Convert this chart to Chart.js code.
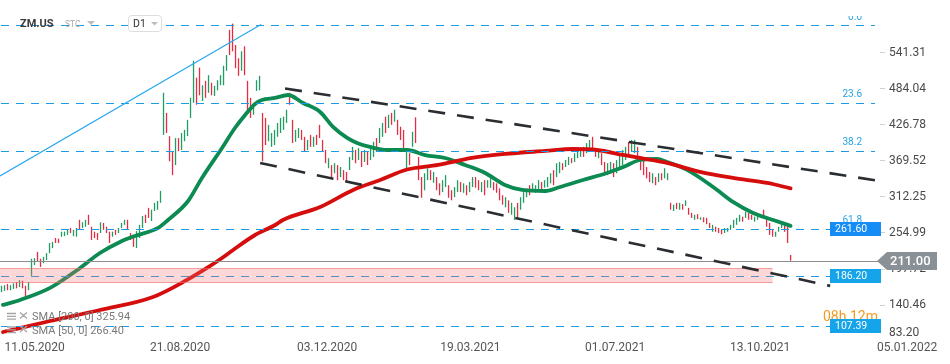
<!DOCTYPE html>
<html><head><meta charset="utf-8">
<script src="https://cdn.jsdelivr.net/npm/chart.js@4.4.1/dist/chart.umd.min.js"></script>
<style>html,body{margin:0;padding:0;background:#fff;}canvas{display:block;}</style>
</head><body>
<canvas id="c" width="950" height="364" style="width:950px;height:364px"></canvas>
<script>
// ---- data ----
const barHighs = [
171,172,174,172,175,177,180,179,171,177,
214,215,225,214,217,223,239,241,247,246,
257,257,260,263,260,263,276,272,276,284,
265,257,255,272,271,265,257,257,260,263,
271,276,276,255,252,258,268,282,284,295,
292,303,306,322,478,446,409,385,406,406,
414,419,435,470,529,502,518,490,497,506,
494,489,498,506,521,538,578,588,554,533,
544,552,497,470,462,498,505,446,438,427,
414,419,430,438,440,451,478,435,419,422,
419,408,403,411,408,411,427,403,387,374,
363,366,363,360,355,352,376,392,387,390,
384,387,384,392,400,406,422,430,440,443,
446,451,435,424,419,387,382,416,439,376,
344,350,358,355,352,344,334,339,347,331,
323,328,339,336,334,331,336,344,344,339,
336,339,339,342,336,334,326,315,312,307,
303,296,303,312,320,326,331,334,331,339,
336,339,344,350,355,366,368,366,371,376,
374,382,384,387,392,398,403,408,390,387,
382,368,366,368,366,371,379,387,392,400,
403,403,392,376,371,360,352,350,344,350,
350,358,350,303,300,303,303,301,307,295,
287,284,285,280,280,279,271,268,265,263,
260,263,263,268,276,279,284,281,289,287,
284,281,284,285,292,279,271,260,257,265,
271,270,265,220];
const barLows = [
161,163,164,164,166,167,169,167,152,164,
187,204,209,201,207,212,223,231,239,239,
249,250,252,255,250,249,260,263,265,268,
244,247,244,255,260,255,239,249,252,255,
263,268,260,244,233,231,247,263,271,279,
274,290,292,303,411,414,369,347,363,385,
387,401,409,438,462,459,474,465,470,478,
474,473,482,490,490,513,538,544,517,505,
513,506,449,438,443,481,482,369,395,401,
392,395,408,414,419,430,459,398,400,406,
403,384,387,392,392,395,406,384,366,358,
344,350,339,344,339,336,355,371,366,371,
360,368,363,371,376,384,398,408,414,422,
427,432,411,403,387,355,363,392,398,339,
311,323,339,339,335,323,315,320,328,311,
307,312,320,320,319,315,320,328,327,323,
320,315,327,327,323,319,307,300,296,287,
284,276,279,292,303,312,315,320,319,323,
323,327,328,334,331,344,350,355,360,363,
366,368,374,376,376,382,384,390,376,374,
363,350,347,350,344,350,358,363,371,376,
384,382,374,355,347,342,336,334,331,336,
339,342,339,292,290,293,292,292,298,284,
279,276,277,276,272,269,263,257,257,255,
253,255,257,260,263,268,273,273,279,276,
276,273,276,279,279,265,252,249,249,257,
263,257,239,211];
const barDirs = ("uuduududdu uudduuuudd uuuduuduud dddudddudu uuddduuudd uuuuudddud uuuuuddudu duuuuudddd " +
  "uddduuuddu uuuuuudduu ddududdddu dududduudu duduuduudu dudddududd duududduud duududuudd uduuddddud " +
  "uuduuuduuu duuuduuduu duuuduuddu dduuduuuud uudddddudu duudududud dududddudd duuuuuudud duuudddduu uddd").replace(/ /g,'');

const sma50X = [0.5,6.2,16.2,26.2,32.8,39.5,44.5,52.2,55.5,62.2,66.8,73.5,77.8,81.2,84.5,86.8,91.2,95.5,100.5,106.2,110.5,115.2,118.5,122.8,128.5,135.2,141.2,147.8,154.5,161.2,167.8,173.5,181.2,186.2,193.8,201.8,207.2,212.8,218.5,221.8,228.5,237.2,243.8,250.5,257.2,263];
const sma50Y = [140.6,148.5,167.7,199.4,223.2,240.8,250.3,263,275.7,305.9,342.5,390.3,422,442.7,460.2,466.6,469.8,474.5,461.8,447.5,423.7,406.2,398.2,391.9,387,387,379,374.3,363.2,350.4,331.3,323.4,321.8,328.2,339.3,350.4,360,371.1,372.7,368,355.3,328.2,304.4,286.9,275.7,266.4];
const sma200X = [0.5,16.2,32.8,50.5,61.8,68.5,73.5,77.2,84.5,91.2,93.8,106.2,117.2,126.2,135.2,145.5,156.8,167.8,181.2,190.5,198.5,207.2,212.8,221.8,232.8,243.8,255.2,263];
const sma200Y = [97.5,115,132.5,153.2,180.3,199.4,215.2,228,251.8,267.7,275.7,296.4,323.4,339.3,356,363.2,374.3,380.7,385.5,388.6,387,379.1,374.3,366.4,352.1,342.5,334.6,325.94];

const xTickIdx = [1, 49.5, 98.5, 146.2, 194.5, 242.8, 291.8];
const xTickLabels = ['11.05.2020','21.08.2020','03.12.2020','19.03.2021','01.07.2021','13.10.2021','05.01.2022'];
const yTickValues = [140.46,197.72,254.99,312.25,369.52,426.78,484.04,541.31];
const yBottomLabel = 83.20;
const yAxisMin = 83.20, yAxisMax = 625.6;
const xAxisMin = -0.5, xAxisMax = 292.8;

const fibLevels = [585.8, 462.0, 385.5, 261.6];
const fibLabels = ['0.0','23.6','38.2','61.8'];
const levelLines = [186.20, 107.39];
const boxedLevels = [261.60, 186.20, 107.39];
const lastPrice = 211.00;
const zonePrices = [175.5, 199.3];
const zoneEndIdx = 257;
const trendBlue = [[-0.5, 345.7],[86.5, 586.6]];
const trendUpper = [[94.5, 484.8],[292.8, 337.7]];
const trendLower = [[86.2, 366.4],[276.2, 170.9]];
const smaLegend = ['SMA [200, 0] 325.94', 'SMA [50, 0] 266.40'];
const symbolName = 'ZM.US', symbolType = 'STC', timeFrame = 'D1', timerText = '08h 12m';

// ---- build ----
const UP = '#1f9d62', DOWN = '#e62c42';
const bars = barHighs.map((h,i)=>({x:i, y:[barLows[i], h]}));
const barColors = barHighs.map((h,i)=> barDirs[i]==='u' ? UP : DOWN);
const FONT = 'Roboto, "DejaVu Sans", sans-serif';

function seg(ctx, x, y, p) {
  ctx.beginPath();
  ctx.moveTo(x.getPixelForValue(p[0][0]), y.getPixelForValue(p[0][1]));
  ctx.lineTo(x.getPixelForValue(p[1][0]), y.getPixelForValue(p[1][1]));
  ctx.stroke();
}

const overlay = {
  id: 'overlay',
  afterDatasetsDraw(chart) {
    const {ctx, chartArea: a, scales: {x, y}} = chart;
    const R = a.right;
    ctx.save();
    ctx.beginPath(); ctx.rect(a.left, a.top, a.width, a.height); ctx.clip();
    ctx.strokeStyle = '#1c9be2'; ctx.lineWidth = 1.2; ctx.setLineDash([8,7]);
    fibLevels.concat(levelLines).forEach(p => {
      const py = Math.round(y.getPixelForValue(p)) + 0.5;
      ctx.beginPath(); ctx.moveTo(a.left + 1, py); ctx.lineTo(R - 5, py); ctx.stroke();
    });
    ctx.setLineDash([]);
    const zt = y.getPixelForValue(zonePrices[1]), zb = y.getPixelForValue(zonePrices[0]);
    const zr = x.getPixelForValue(zoneEndIdx);
    ctx.fillStyle = 'rgba(245,110,110,0.28)';
    ctx.fillRect(a.left, zt, zr - a.left, zb - zt);
    ctx.strokeStyle = 'rgba(238,110,110,0.55)'; ctx.lineWidth = 1;
    ctx.beginPath();
    ctx.moveTo(a.left, Math.round(zt) + 0.5); ctx.lineTo(zr, Math.round(zt) + 0.5);
    ctx.moveTo(a.left, Math.round(zb) - 0.5); ctx.lineTo(zr, Math.round(zb) - 0.5);
    ctx.stroke();
    const lp = Math.round(y.getPixelForValue(lastPrice)) + 0.5;
    ctx.strokeStyle = '#8e8e8e'; ctx.lineWidth = 1;
    ctx.beginPath(); ctx.moveTo(a.left, lp); ctx.lineTo(R, lp); ctx.stroke();
    ctx.strokeStyle = '#27a6f2'; ctx.lineWidth = 1.2; seg(ctx, x, y, trendBlue);
    ctx.strokeStyle = '#2a2d31'; ctx.lineWidth = 2.6; ctx.setLineDash([17,12]);
    seg(ctx, x, y, trendUpper); seg(ctx, x, y, trendLower);
    ctx.restore();
  },
  afterDraw(chart) {
    const {ctx, chartArea: a, scales: {x, y}} = chart;
    const R = a.right;
    ctx.save();
    ctx.save();
    ctx.beginPath(); ctx.rect(0, 16, 950, 348); ctx.clip();
    ctx.font = '10px ' + FONT; ctx.fillStyle = '#29a3e3'; ctx.textAlign = 'right'; ctx.textBaseline = 'middle';
    fibLevels.forEach((p, i) => ctx.fillText(fibLabels[i], R - 18, y.getPixelForValue(p) - 8));
    ctx.restore();
    const p107 = y.getPixelForValue(boxedLevels[2]);
    ctx.font = '14px ' + FONT; ctx.fillStyle = '#f49b1f'; ctx.textAlign = 'left'; ctx.textBaseline = 'middle';
    ctx.fillText(timerText, R - 57, p107 - 8);
    const boxCols = ['#168cf5', '#15a3ea', '#15a3ea'];
    boxedLevels.forEach((p, i) => {
      const py = Math.round(y.getPixelForValue(p));
      ctx.fillStyle = boxCols[i];
      ctx.fillRect(R - 50, py - 7, 51, 14);
      ctx.fillStyle = '#fff'; ctx.font = '10.5px ' + FONT; ctx.textAlign = 'left'; ctx.textBaseline = 'middle';
      ctx.fillText(p.toFixed(2), R - 45, py + 0.5);
    });
    const lp = Math.round(y.getPixelForValue(lastPrice));
    ctx.fillStyle = '#8a9196';
    ctx.beginPath();
    ctx.moveTo(R - 3, lp); ctx.lineTo(R + 7, lp - 9); ctx.lineTo(R + 57, lp - 9);
    ctx.lineTo(R + 57, lp + 9); ctx.lineTo(R + 7, lp + 9); ctx.closePath(); ctx.fill();
    ctx.fillStyle = '#fff'; ctx.font = '500 13px ' + FONT; ctx.textAlign = 'left';
    ctx.fillText(lastPrice.toFixed(2), R + 10, lp + 0.5);
    ctx.fillStyle = '#4a4a4a'; ctx.font = '12px ' + FONT;
    ctx.fillText(yBottomLabel.toFixed(2), R + 9, a.bottom - 8);
    ctx.fillStyle = '#3b3b3b'; ctx.font = 'bold 11px ' + FONT;
    ctx.fillText(symbolName, 20, 24);
    ctx.fillStyle = '#aaaaaa'; ctx.font = '8.5px ' + FONT;
    ctx.fillText(symbolType, 65, 25);
    ctx.fillStyle = '#bdbdbd';
    ctx.beginPath(); ctx.moveTo(87, 21); ctx.lineTo(95, 21); ctx.lineTo(91, 25); ctx.closePath(); ctx.fill();
    ctx.fillStyle = '#fff'; ctx.strokeStyle = '#dddddd'; ctx.lineWidth = 1;
    ctx.beginPath(); ctx.roundRect(128.5, 15.5, 33, 16, 3); ctx.fill(); ctx.stroke();
    ctx.fillStyle = '#333'; ctx.font = '10.5px ' + FONT;
    ctx.fillText(timeFrame, 133, 24);
    ctx.fillStyle = '#bdbdbd';
    ctx.beginPath(); ctx.moveTo(151, 22); ctx.lineTo(158, 22); ctx.lineTo(154.5, 25.5); ctx.closePath(); ctx.fill();
    smaLegend.forEach((t, i) => {
      const ly = 317.5 + i * 13.5;
      ctx.strokeStyle = '#a5a5a5'; ctx.lineWidth = 1.3;
      ctx.beginPath();
      for (let k = 0; k < 3; k++) { ctx.moveTo(7, ly - 4 + k * 2.8); ctx.lineTo(16, ly - 4 + k * 2.8); }
      ctx.moveTo(20, ly - 5); ctx.lineTo(27, ly + 1); ctx.moveTo(27, ly - 5); ctx.lineTo(20, ly + 1);
      ctx.stroke();
      ctx.fillStyle = '#7a7a7a'; ctx.font = '11px ' + FONT; ctx.textAlign = 'left';
      ctx.fillText(t, 32, ly);
    });
    ctx.restore();
  }
};

new Chart(document.getElementById('c'), {
  data: {
    datasets: [
      {type: 'line', data: sma200X.map((v, i) => ({x: v, y: sma200Y[i]})), borderColor: '#d60d0d', borderWidth: 3.8,
       pointRadius: 0, cubicInterpolationMode: 'monotone', borderCapStyle: 'round', order: 0},
      {type: 'line', data: sma50X.map((v, i) => ({x: v, y: sma50Y[i]})), borderColor: '#0b8a52', borderWidth: 3.8,
       pointRadius: 0, cubicInterpolationMode: 'monotone', borderCapStyle: 'round', order: 1},
      {type: 'bar', data: bars, backgroundColor: barColors, barThickness: 1.3, inflateAmount: 0, grouped: false, borderWidth: 0, order: 3}
    ]
  },
  options: {
    responsive: false, animation: false, devicePixelRatio: 1,
    layout: {padding: 0},
    plugins: {legend: {display: false}, tooltip: {enabled: false}},
    scales: {
      x: {
        type: 'linear', min: xAxisMin, max: xAxisMax, offset: false,
        grid: {display: false, drawTicks: false, offset: false}, border: {display: false},
        ticks: {align: 'start', maxRotation: 0, autoSkip: false, padding: 0, color: '#555', font: {family: FONT, size: 12},
          callback: (v, i) => xTickLabels[i]},
        afterBuildTicks: s => { s.ticks = xTickIdx.map(v => ({value: v})); },
        afterFit: s => { s.height = 23; s.paddingLeft = 0; s.paddingRight = 0; }
      },
      y: {
        position: 'right', min: yAxisMin, max: yAxisMax,
        grid: {drawOnChartArea: false, tickLength: 5, color: '#d0d0d0'}, border: {display: false},
        ticks: {padding: 4, color: '#4a4a4a', font: {family: FONT, size: 12}, callback: v => Number(v).toFixed(2)},
        afterBuildTicks: s => { s.ticks = yTickValues.map(v => ({value: v})); },
        afterFit: s => { s.width = 70; s.paddingTop = 0; s.paddingBottom = 0; }
      }
    }
  },
  plugins: [overlay]
});
</script>
</body></html>
